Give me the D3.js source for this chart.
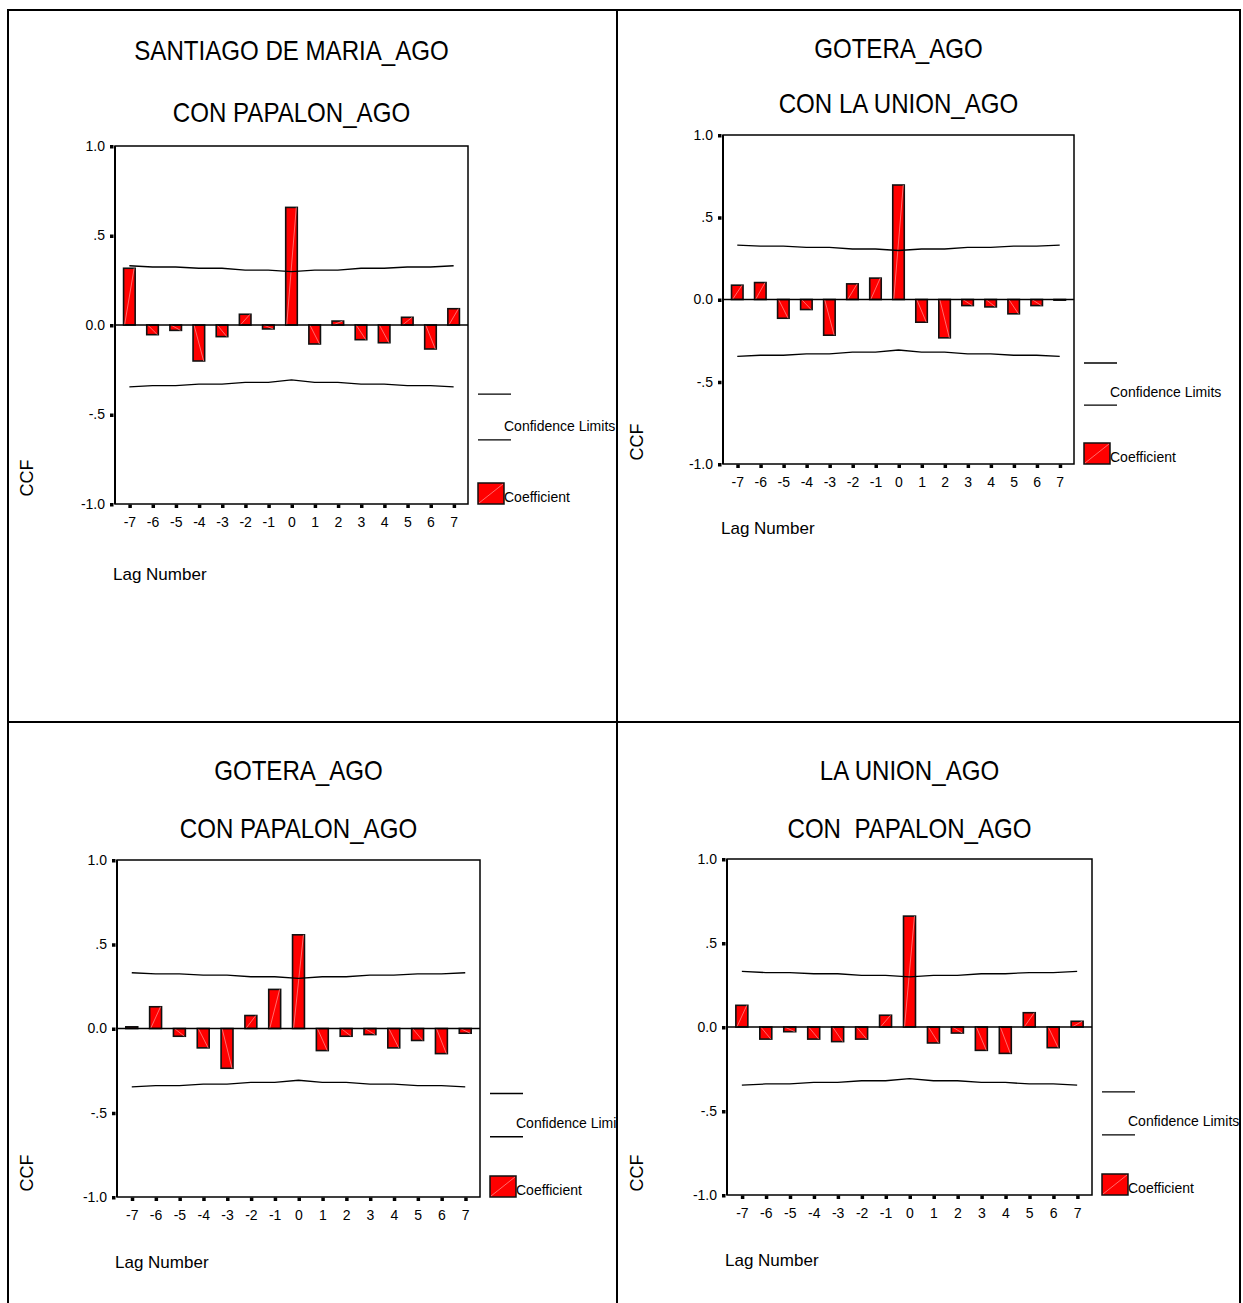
<!DOCTYPE html>
<html>
<head>
<meta charset="utf-8">
<script src="https://cdn.jsdelivr.net/npm/d3@7"></script>
<style>
  html, body { margin: 0; padding: 0; background: #fff; }
  svg { display: block; font-family: "Liberation Sans", Arial, sans-serif; }
</style>
</head>
<body>
<svg id="chart" width="1243" height="1303"></svg>
<script>
// Lags shown on every cross-correlation plot
const lags = [-7, -6, -5, -4, -3, -2, -1, 0, 1, 2, 3, 4, 5, 6, 7];

// Y-axis ticks and their printed labels
const yTickValues = [1, 0.5, 0, -0.5, -1];
const yTickLabels = ["1.0", ".5", "0.0", "-.5", "-1.0"];

// Confidence limits per lag (shared by the four series)
const upperLimit = [0.331, 0.324, 0.324, 0.317, 0.317, 0.307, 0.307, 0.298, 0.307, 0.307, 0.317, 0.317, 0.324, 0.324, 0.331];
const lowerLimit = [-0.346, -0.339, -0.339, -0.330, -0.330, -0.320, -0.320, -0.307, -0.320, -0.320, -0.330, -0.330, -0.339, -0.339, -0.346];

// Cross-correlation coefficients, one value per lag
const ccfSantiagoPapalon = [0.317, -0.054, -0.030, -0.201, -0.065, 0.060, -0.022, 0.657, -0.106, 0.022, -0.082, -0.099, 0.043, -0.134, 0.091];
const ccfGoteraLaUnion   = [0.087, 0.103, -0.114, -0.061, -0.217, 0.095, 0.130, 0.696, -0.138, -0.233, -0.037, -0.045, -0.087, -0.037, -0.004];
const ccfGoteraPapalon   = [0.010, 0.129, -0.046, -0.115, -0.236, 0.077, 0.232, 0.556, -0.131, -0.046, -0.036, -0.115, -0.071, -0.149, -0.028];
const ccfLaUnionPapalon  = [0.129, -0.072, -0.028, -0.072, -0.087, -0.072, 0.070, 0.660, -0.095, -0.036, -0.139, -0.157, 0.085, -0.123, 0.034];

// Panel titles (two lines each)
const titleTop    = ["SANTIAGO DE MARIA_AGO", "GOTERA_AGO", "GOTERA_AGO", "LA UNION_AGO"];
const titleBottom = ["CON PAPALON_AGO", "CON LA UNION_AGO", "CON PAPALON_AGO", "CON  PAPALON_AGO"];
const seriesList  = [ccfSantiagoPapalon, ccfGoteraLaUnion, ccfGoteraPapalon, ccfLaUnionPapalon];

// Text labels
const yAxisTitle = "CCF";
const xAxisTitle = "Lag Number";
const legendLimits = "Confidence Limits";
const legendCoef = "Coefficient";

// Page geometry for each panel: plot frame, title baselines, label positions, cell
const layout = [
  { x0: 115, x1: 468,  y0: 146, y1: 504,  t1: 60,  t2: 122, ccfX: 27,  ccfY: 478,  lagY: 580,  cell: [9, 10, 617, 722] },
  { x0: 723, x1: 1074, y0: 135, y1: 464,  t1: 58,  t2: 113, ccfX: 637, ccfY: 442,  lagY: 534,  cell: [617, 10, 1240, 722] },
  { x0: 117, x1: 480,  y0: 860, y1: 1197, t1: 780, t2: 838, ccfX: 27,  ccfY: 1173, lagY: 1268, cell: [9, 722, 617, 1310] },
  { x0: 727, x1: 1092, y0: 859, y1: 1195, t1: 780, t2: 838, ccfX: 637, ccfY: 1173, lagY: 1266, cell: [617, 722, 1240, 1310] }
];

const svg = d3.select("#chart");
const RED = "#ff0000";

// squeeze text horizontally by a factor
function narrow(sel, factor) {
  sel.each(function () {
    const w = this.getComputedTextLength();
    d3.select(this).attr("textLength", w * factor).attr("lengthAdjust", "spacingAndGlyphs");
  });
}

const defs = svg.append("defs");

layout.forEach((L, i) => {
  const values = seriesList[i];
  const data = lags.map((lag, j) => ({ lag, v: values[j], up: upperLimit[j], lo: lowerLimit[j] }));

  defs.append("clipPath").attr("id", "cell" + i)
    .append("rect")
    .attr("x", L.cell[0]).attr("y", L.cell[1])
    .attr("width", L.cell[2] - L.cell[0]).attr("height", L.cell[3] - L.cell[1]);

  const g = svg.append("g").attr("clip-path", `url(#cell${i})`);

  const x = d3.scalePoint().domain(lags).range([L.x0, L.x1]).padding(0.62);
  const y = d3.scaleLinear().domain([-1, 1]).range([L.y1, L.y0]);
  const bw = x.step() * 0.5;
  const cx = (L.x0 + L.x1) / 2;

  // titles
  g.append("text").attr("x", cx).attr("y", L.t1).attr("text-anchor", "middle")
    .attr("font-size", 28).attr("fill", "#000").style("white-space", "pre")
    .text(titleTop[i]).call(narrow, 0.86);
  g.append("text").attr("x", cx).attr("y", L.t2).attr("text-anchor", "middle")
    .attr("font-size", 28).attr("fill", "#000").style("white-space", "pre")
    .text(titleBottom[i]).call(narrow, 0.86);

  // plot frame
  g.append("rect").attr("x", L.x0).attr("y", L.y0)
    .attr("width", L.x1 - L.x0).attr("height", L.y1 - L.y0)
    .attr("fill", "none").attr("stroke", "#000").attr("stroke-width", 1.5);
  g.append("line").attr("x1", L.x0).attr("x2", L.x0).attr("y1", L.y0).attr("y2", L.y1)
    .attr("stroke", "#000").attr("stroke-width", 2);

  // y axis ticks
  const yAxis = d3.axisLeft(y).tickValues(yTickValues)
    .tickFormat((d, k) => yTickLabels[k]).tickSize(0).tickPadding(10);
  const ya = g.append("g").attr("transform", `translate(${L.x0},0)`).call(yAxis);
  ya.select(".domain").remove();
  ya.selectAll(".tick text").attr("font-size", 14).attr("fill", "#000")
    .attr("font-family", "Liberation Sans, Arial, sans-serif");
  ya.selectAll(".tick").append("rect")
    .attr("x", -5).attr("y", -1.5).attr("width", 3.5).attr("height", 3.5).attr("fill", "#000");

  // x axis ticks
  const xAxis = d3.axisBottom(x).tickSize(0).tickPadding(13);
  const xa = g.append("g").attr("transform", `translate(0,${L.y1})`).call(xAxis);
  xa.select(".domain").remove();
  xa.selectAll(".tick text").attr("font-size", 14).attr("fill", "#000")
    .attr("font-family", "Liberation Sans, Arial, sans-serif");
  xa.selectAll(".tick").append("rect")
    .attr("x", -1.5).attr("y", 0.5).attr("width", 3.5).attr("height", 3.5).attr("fill", "#000");

  // coefficient bars
  const bars = g.append("g");
  bars.selectAll("rect").data(data).join("rect")
    .attr("x", d => x(d.lag) - bw / 2)
    .attr("y", d => y(Math.max(0, d.v)))
    .attr("width", bw)
    .attr("height", d => Math.abs(y(d.v) - y(0)))
    .attr("fill", RED).attr("stroke", "#111").attr("stroke-width", 1.6);
  bars.selectAll("line").data(data.filter(d => Math.abs(d.v) > 0.015)).join("line")
    .attr("x1", d => x(d.lag) - bw / 2 + 1).attr("y1", y(0))
    .attr("x2", d => x(d.lag) + bw / 2 - 1).attr("y2", d => y(d.v))
    .attr("stroke", "#ff9a9a").attr("stroke-width", 0.7);

  // zero reference line
  g.append("line").attr("x1", L.x0).attr("x2", L.x1).attr("y1", y(0)).attr("y2", y(0))
    .attr("stroke", "#000").attr("stroke-width", 1.6);

  // confidence limits
  const lineUp = d3.line().x(d => x(d.lag)).y(d => y(d.up));
  const lineLo = d3.line().x(d => x(d.lag)).y(d => y(d.lo));
  g.append("path").attr("d", lineUp(data)).attr("fill", "none").attr("stroke", "#000").attr("stroke-width", 1.3);
  g.append("path").attr("d", lineLo(data)).attr("fill", "none").attr("stroke", "#000").attr("stroke-width", 1.3);

  // axis titles
  g.append("text").attr("transform", `translate(${L.ccfX + 6},${L.ccfY}) rotate(-90)`)
    .attr("text-anchor", "middle").attr("font-size", 18).attr("fill", "#000").text(yAxisTitle);
  g.append("text").attr("x", L.x0 - 2).attr("y", L.lagY)
    .attr("font-size", 17).attr("fill", "#000").text(xAxisTitle);

  // legend
  const H = L.y1 - L.y0;
  const lx = L.x1 + 10;
  [0.307, 0.179].forEach(f => {
    g.append("line").attr("x1", lx).attr("x2", lx + 33)
      .attr("y1", L.y1 - f * H).attr("y2", L.y1 - f * H)
      .attr("stroke", "#000").attr("stroke-width", 1.4);
  });
  g.append("text").attr("x", lx + 26).attr("y", L.y1 - 0.205 * H)
    .attr("font-size", 14).attr("fill", "#000").text(legendLimits);
  g.append("rect").attr("x", lx).attr("y", L.y1 - 21).attr("width", 26).attr("height", 21)
    .attr("fill", RED).attr("stroke", "#111").attr("stroke-width", 1.5);
  g.append("line").attr("x1", lx + 1).attr("y1", L.y1 - 1).attr("x2", lx + 25).attr("y2", L.y1 - 20)
    .attr("stroke", "#ff9a9a").attr("stroke-width", 0.7);
  g.append("text").attr("x", lx + 26).attr("y", L.y1 - 2)
    .attr("font-size", 14).attr("fill", "#000").text(legendCoef);
});

// outer border and panel dividers
svg.append("rect").attr("x", 8).attr("y", 10).attr("width", 1232).attr("height", 1310)
  .attr("fill", "none").attr("stroke", "#000").attr("stroke-width", 2);
svg.append("line").attr("x1", 617).attr("x2", 617).attr("y1", 10).attr("y2", 1303)
  .attr("stroke", "#000").attr("stroke-width", 2);
svg.append("line").attr("x1", 8).attr("x2", 1240).attr("y1", 722).attr("y2", 722)
  .attr("stroke", "#000").attr("stroke-width", 2);
</script>
</body>
</html>
